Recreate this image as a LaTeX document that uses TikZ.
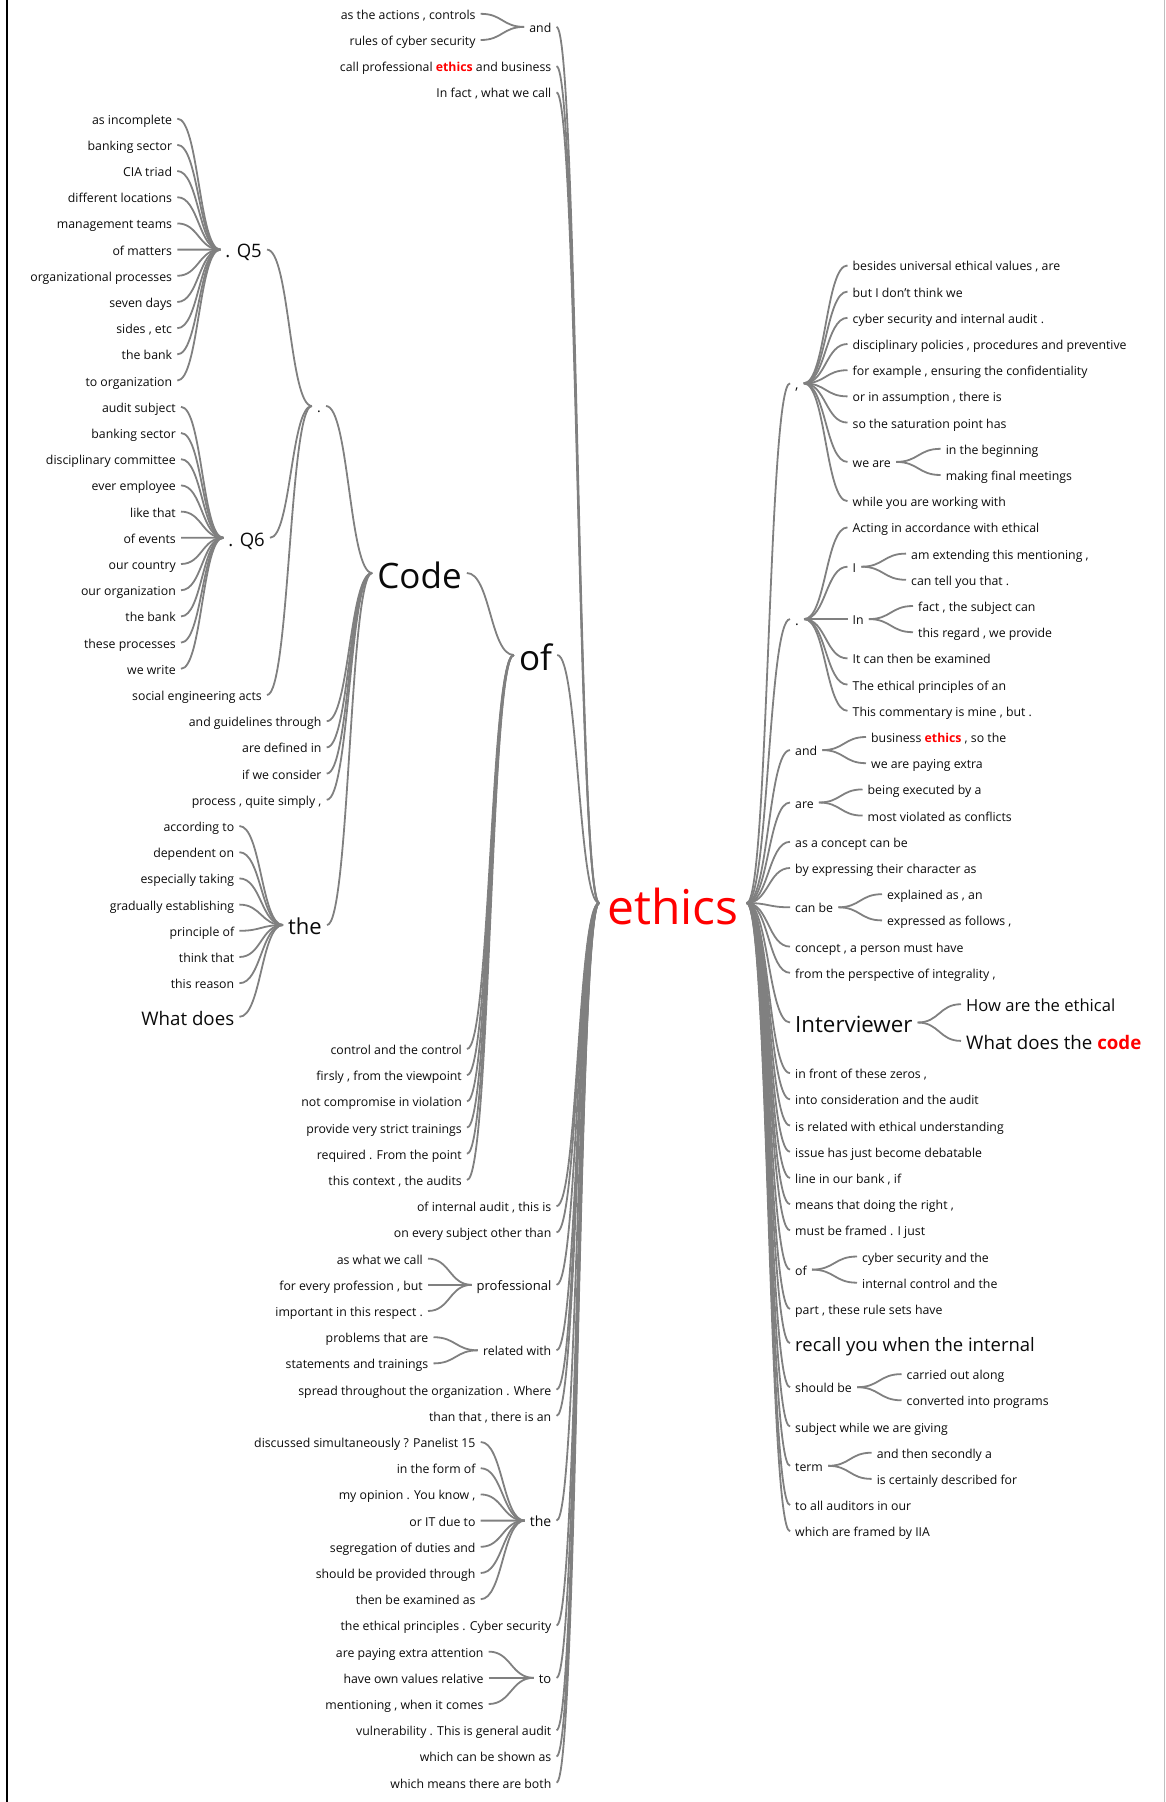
\documentclass[tikz,border=0pt]{standalone}
\usepackage{fontspec}
\setmainfont{Open Sans}
\usetikzlibrary{calc}

\definecolor{lnk}{RGB}{128,128,128}
\definecolor{wtxt}{RGB}{10,10,10}
\definecolor{hit}{RGB}{255,0,0}
\newcommand{\hword}[1]{{\color{hit}\bfseries #1}}

\tikzset{
  wd/.style={font=\fontsize{#1}{#1}\selectfont, text=wtxt, inner xsep=5pt, inner ysep=0pt,
    text height=0.9*#1pt, text depth=0pt},
  wd/.default=12.3,
  lw/.style={wd=#1, anchor=east},
  lw/.default=12.3,
  rw/.style={wd=#1, anchor=west},
  rw/.default=12.3,
  br/.style={draw=lnk, line width=1.8pt, to path={let \p1=(\tikztostart), \p2=(\tikztotarget) in
    .. controls ({(\x1+\x2)/2},\y1) and ({(\x1+\x2)/2},\y2) .. (\tikztotarget)}}
}

\begin{document}
\begin{tikzpicture}[x=1pt,y=-1pt]
\useasboundingbox (0,0) rectangle (1165,1802);
\draw[line width=2pt] (6.5,0) -- (6.5,1802);
\draw[black!25] (1164.5,0) -- (1164.5,1802);

\node[wd=48, text=hit, inner xsep=8pt] (ethics) at (673,903) {ethics};

% words before ethics
\node[lw] (and) at (556.5,26.9) {and};
\node[lw] (ac1) at (480.7,13.8) {as the actions , controls};
\node[lw] (ac2) at (480.7,40.0) {rules of cyber security};
\draw[br] (ac1.east) to (and.west);
\draw[br] (ac2.east) to (and.west);
\node[lw] (cpe) at (556.5,66.2) {call professional \hword{ethics} and business};
\node[lw] (ifc) at (556.5,92.4) {In fact , what we call};

\node[lw=18.5] (q5) at (267,249.6) {. Q5};
\foreach \w [count=\i from 0] in {as incomplete, banking sector, CIA triad, different locations, management teams, of matters, organizational processes, seven days, {sides , etc}, the bank, to organization}{
  \node[lw] (q5w\i) at (177.3,118.6+26.2*\i) {\w};
  \draw[br] (q5w\i.east) to (q5.west);
}
\node[lw=18.5] (q6) at (270,537.8) {. Q6};
\foreach \w [count=\i from 0] in {audit subject, banking sector, disciplinary committee, ever employee, like that, of events, our country, our organization, the bank, these processes, we write}{
  \node[lw] (q6w\i) at (181,406.8+26.2*\i) {\w};
  \draw[br] (q6w\i.east) to (q6.west);
}
\node[lw=14] (dot) at (326,406) {.};
\node[lw] (sea) at (267,695.0) {social engineering acts};
\foreach \nd in {q5,q6,sea} \draw[br] (\nd.east) to (dot.west);

\node[wd=35] (code) at (419.5,573) {Code};
\foreach \w [count=\i from 0] in {and guidelines through, are defined in, if we consider, {process , quite simply ,}}{
  \node[lw] (cdw\i) at (326.7,721.2+26.2*\i) {\w};
  \draw[br] (cdw\i.east) to (code.west);
}
\node[lw=22] (thel) at (327,925) {the};
\foreach \w [count=\i from 0] in {according to, dependent on, especially taking, gradually establishing, principle of, think that, this reason}{
  \node[lw] (thw\i) at (239.4,826.0+26.2*\i) {\w};
  \draw[br] (thw\i.east) to (thel.west);
}
\node[lw=18.7] (wdl) at (239.4,1016.8) {What does};
\draw[br] (wdl.east) to (thel.west);
\draw[br] (dot.east) to (code.west);
\draw[br] (thel.east) to (code.west);

\node[wd=35] (of) at (535.5,655) {of};
\draw[br] (code.east) to (of.west);
\foreach \w [count=\i from 0] in {control and the control, {firsly , from the viewpoint}, not compromise in violation, provide very strict trainings, required . From the point, {this context , the audits}}{
  \node[lw] (ofw\i) at (467,1049+26.2*\i) {\w};
  \draw[br] (ofw\i.east) to (of.west);
}
\draw[br] (of.east) to (ethics.west);

\node[lw] (oia) at (556.5,1206.2) {of internal audit , this is};
\node[lw] (oes) at (556.5,1232.4) {on every subject other than};
\node[lw=13] (prof) at (556.5,1284.8) {professional};
\foreach \w [count=\i from 0] in {as what we call, {for every profession , but}, important in this respect .}{
  \node[lw] (prw\i) at (428,1258.6+26.2*\i) {\w};
  \draw[br] (prw\i.east) to (prof.west);
}
\node[lw] (rel) at (556.5,1350.3) {related with};
\foreach \w [count=\i from 0] in {problems that are, statements and trainings}{
  \node[lw] (rlw\i) at (433.5,1337.2+26.2*\i) {\w};
  \draw[br] (rlw\i.east) to (rel.west);
}
\node[lw] (stw) at (556.5,1389.6) {spread throughout the organization . Where};
\node[lw] (tti) at (556.5,1415.8) {than that , there is an};
\node[lw=14] (theb) at (556.5,1520.6) {the};
\foreach \w [count=\i from 0] in {discussed simultaneously ? Panelist 15, in the form of, {my opinion . You know ,}, or IT due to, segregation of duties and, should be provided through, then be examined as}{
  \node[lw] (tbw\i) at (480.7,1442+26.2*\i) {\w};
  \draw[br] (tbw\i.east) to (theb.west);
}
\node[lw] (tep) at (556.5,1625.4) {the ethical principles . Cyber security};
\node[lw=13] (tob) at (556.5,1677.8) {to};
\foreach \w [count=\i from 0] in {are paying extra attention, have own values relative, {mentioning , when it comes}}{
  \node[lw] (tow\i) at (488.7,1651.6+26.2*\i) {\w};
  \draw[br] (tow\i.east) to (tob.west);
}
\node[lw] (vul) at (556.5,1730.2) {vulnerability . This is general audit};
\node[lw] (wcs) at (556.5,1756.4) {which can be shown as};
\node[lw] (wmb) at (556.5,1782.6) {which means there are both};
\foreach \nd in {and,cpe,ifc,oia,oes,prof,rel,stw,tti,theb,tep,tob,vul,wcs,wmb} \draw[br] (\nd.east) to (ethics.west);

% words after ethics
\node[rw=14] (cm) at (790,383.3) {,};
\foreach \w [count=\i from 0] in {{besides universal ethical values , are}, but I don’t think we, cyber security and internal audit ., {disciplinary policies , procedures and preventive}, {for example , ensuring the confidentiality}, {or in assumption , there is}, so the saturation point has}{
  \node[rw] (cmw\i) at (847.5,265.4+26.2*\i) {\w};
  \draw[br] (cm.east) to (cmw\i.west);
}
\node[rw] (wea) at (847.5,461.9) {we are};
\node[rw] (wea1) at (940.6,448.8) {in the beginning};
\node[rw] (wea2) at (940.6,475.0) {making final meetings};
\node[rw] (wyw) at (847.5,501.2) {while you are working with};

\node[rw=14] (pd) at (790,619.1) {.};
\node[rw] (aia) at (847.5,527.4) {Acting in accordance with ethical};
\node[rw] (ii) at (847.5,566.7) {I};
\node[rw] (ii1) at (906,553.6) {am extending this mentioning ,};
\node[rw] (ii2) at (906,579.8) {can tell you that .};
\node[rw] (inn) at (847.5,619.1) {In};
\node[rw] (inn1) at (913,606.0) {fact , the subject can};
\node[rw] (inn2) at (913,632.2) {this regard , we provide};
\node[rw] (ict) at (847.5,658.4) {It can then be examined};
\node[rw] (tpa) at (847.5,684.6) {The ethical principles of an};
\node[rw] (tcm) at (847.5,710.8) {This commentary is mine , but .};

\node[rw] (andr) at (790,750.1) {and};
\node[rw] (andr1) at (866,737.0) {business \hword{ethics} , so the};
\node[rw] (andr2) at (866,763.2) {we are paying extra};
\node[rw] (are) at (790,802.5) {are};
\node[rw] (are1) at (862.5,789.4) {being executed by a};
\node[rw] (are2) at (862.5,815.6) {most violated as conflicts};
\node[rw] (aac) at (790,841.8) {as a concept can be};
\node[rw] (bec) at (790,868.0) {by expressing their character as};
\node[rw] (cbe) at (790,907.3) {can be};
\node[rw] (cbe1) at (882,894.2) {explained as , an};
\node[rw] (cbe2) at (882,920.4) {expressed as follows ,};
\node[rw] (cap) at (790,946.6) {concept , a person must have};
\node[rw] (fpi) at (790,972.8) {from the perspective of integrality ,};
\node[rw=22.3] (intv) at (790,1022.5) {Interviewer};
\node[rw=16.6] (intv1) at (961,1004.2) {How are the ethical};
\node[rw=18.7] (intv2) at (961,1040.9) {What does the \hword{code}};

\foreach \w [count=\i from 0] in {{in front of these zeros ,}, into consideration and the audit, is related with ethical understanding, issue has just become debatable, {line in our bank , if}, {means that doing the right ,}, must be framed . I just}{
  \node[rw] (srw\i) at (790,1073.1+26.2*\i) {\w};
  \draw[br] (ethics.east) to (srw\i.west);
}
\node[rw] (ofr) at (790,1269.6) {of};
\node[rw] (ofr1) at (857,1256.5) {cyber security and the};
\node[rw] (ofr2) at (857,1282.7) {internal control and the};
\node[rw] (pts) at (790,1308.9) {part , these rule sets have};
\node[rw=18.5] (ryw) at (790,1343.1) {recall you when the internal};
\node[rw] (shb) at (790,1387.2) {should be};
\node[rw] (shb1) at (901.5,1374.1) {carried out along};
\node[rw] (shb2) at (901.5,1400.3) {converted into programs};
\node[rw] (swg) at (790,1426.5) {subject while we are giving};
\node[rw] (trm) at (790,1465.8) {term};
\node[rw] (trm1) at (871.6,1452.7) {and then secondly a};
\node[rw] (trm2) at (871.6,1478.9) {is certainly described for};
\node[rw] (taa) at (790,1505.1) {to all auditors in our};
\node[rw] (wfi) at (790,1531.3) {which are framed by IIA};

\foreach \nd in {cm,pd,andr,are,aac,bec,cbe,cap,fpi,intv,ofr,pts,ryw,shb,swg,trm,taa,wfi} \draw[br] (ethics.east) to (\nd.west);
\foreach \nd in {wea,wyw} \draw[br] (cm.east) to (\nd.west);
\foreach \nd in {aia,ii,inn,ict,tpa,tcm} \draw[br] (pd.east) to (\nd.west);
\foreach \pa/\ch in {wea/wea1,wea/wea2,ii/ii1,ii/ii2,inn/inn1,inn/inn2,andr/andr1,andr/andr2,are/are1,are/are2,cbe/cbe1,cbe/cbe2,intv/intv1,intv/intv2,ofr/ofr1,ofr/ofr2,shb/shb1,shb/shb2,trm/trm1,trm/trm2}
  \draw[br] (\pa.east) to (\ch.west);
\end{tikzpicture}
\end{document}
